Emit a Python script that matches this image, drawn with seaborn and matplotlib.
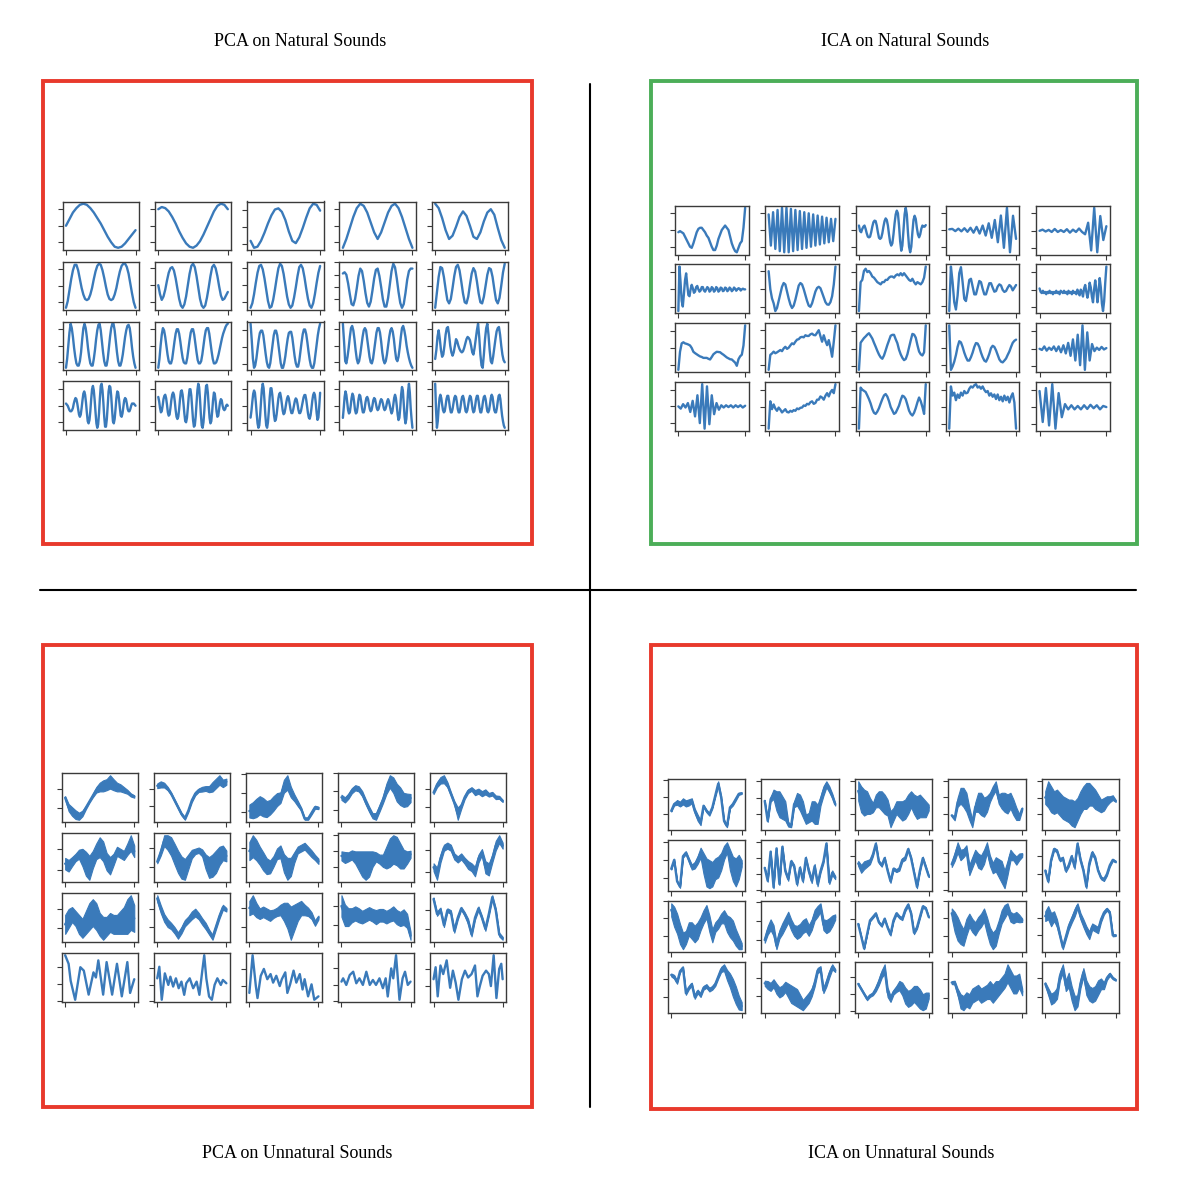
import numpy as np
import matplotlib
matplotlib.use("Agg")
import matplotlib.pyplot as plt
from matplotlib.ticker import MaxNLocator
from matplotlib.patches import Rectangle
from matplotlib.lines import Line2D
import seaborn as sns

sns.set_style("ticks")
plt.rcParams['font.family'] = ['Liberation Serif', 'DejaVu Serif']

# ---------------- titles ----------------
TITLES = ["PCA on Natural Sounds", "ICA on Natural Sounds",
          "PCA on Unnatural Sounds", "ICA on Unnatural Sounds"]

# ---------------- PCA on natural sounds (4 x 5 components) ----------------
TL_WAVES = [
    [0, 3, 6, 8, 9.5, 10, 9.5, 8, 6, 3.5, 1, -2, -5, -7.5, -9.5, -10, -9.5, -8, -6, -4, -2],
    [7.5, 8.5, 8, 6.5, 4, 1, -2.5, -5.5, -8, -9.5, -10, -9, -7, -4, -0.5, 3, 6.5, 9, 10, 9.5, 7.5],
    [-6, -9, -8.5, -6, -2.5, 1.5, 5, 7.5, 8, 6.5, 3, -2, -6, -7, -4.5, -0.5, 4, 8, 10, 9.5, 7],
    [-10, -6, -1, 4, 8, 10, 9, 6, 1.5, -3, -6, -3, 1.5, 6, 9, 10, 8, 4, -1, -6, -10],
    [10, 8, 3.5, -2, -6, -4.5, -0.5, 4, 6.5, 4.5, 0, -5, -6, -3, 2, 6, 7.5, 5, -1, -6.5, -10],
    [-10, -7, -2, 3, 7, 9.5, 9.5, 7, 3, -1, -4, -6, -6.5, -6, -4, -1, 3, 6.5, 9, 10, 9.5, 7, 3.5, -0.5,
     -4, -6, -6.5, -6, -4, -1, 3, 6.5, 9, 10, 10, 8.5, 5.5, 1, -3.5, -7.5, -10],
    [0, -4, -6.5, -5, -2, 2, 5.5, 7.5, 8, 6.5, 3, -1.5, -6, -9, -10, -8.5, -5, 0, 5, 8.5, 9.5, 8, 4, -1,
     -6, -9, -10, -9, -5.5, -1, 4, 8, 9, 7.5, 4, -0.5, -4.5, -6.5, -6, -4.5, -3],
    [-10, -8, -4, 1, 5.5, 8.5, 9, 7, 3, -2, -7, -10, -9.5, -6.5, -2, 3, 7.5, 9.5, 8.5, 5, 0, -5, -8.5, -10,
     -9, -5.5, -1, 4, 8, 9, 7.5, 3.5, -1.5, -6, -9, -10, -8, -4, 1, 5.5, 8.5],
    [5.5, 6, 5, 1.5, -3, -7, -7.5, -5, -0.5, 4.5, 7.5, 6.5, 2.5, -2.5, -6.5, -8, -6, -1.5, 3.5, 7, 7.5,
     4.5, 0, -5, -8, -8, -4.5, 1, 6.5, 9.5, 8, 3.5, -2, -6.5, -8.5, -7, -2.5, 3, 6.5, 7.5, 7.5],
    [-10, -3, 4, 8.5, 8, 4, -1.5, -6.5, -8, -6, -1, 4.5, 8.5, 9.5, 7, 2, -3.5, -7.5, -8, -5, 0.5, 5.5, 8,
     6.5, 2, -3.5, -7.5, -8, -5, 0, 5, 8, 7.5, 4, -1.5, -6.5, -8, -5.5, 0, 6, 10],
    [-10, -6, 0, 6, 10, 8, 4, -1, -5, -8, -9, -9, -7, -3, 3, 8, 10, 8, 4, -1, -5, -8, -9, -9, -6, -2, 3,
     7, 9.5, 10, 7, 2, -3, -7, -9, -9, -6, -1, 4, 8, 10, 10, 7, 2, -3, -7, -9, -9, -7, -4, 0, 4, 7, 9,
     9.5, 8, 4, -1, -5, -8, -10],
    [-10, -6, 0, 5, 8, 7, 4, 0, -4, -7, -8, -8, -6, -2, 2, 5.5, 7.5, 7.5, 5.5, 2, -2, -5.5, -7.5, -8, -8,
     -5.5, -1.5, 2.5, 6, 7.5, 7.5, 5, 1, -3, -6.5, -8, -8, -7, -4, 0, 4, 7, 8, 8, 5.5, 1.5, -2.5, -6, -8,
     -8, -7.5, -6, -4, -1.5, 1, 3.5, 5.5, 7, 8.5, 9.5, 10],
    [10, 3, -5, -9, -8, -5, -1, 3, 6, 7, 7, 5, 1, -3, -6.5, -8.5, -9, -7, -3, 1, 5, 7, 7, 5, 1, -3, -7,
     -9, -9, -7, -4, 0, 3.5, 6, 6.5, 6.5, 4, 0, -4, -7, -8.5, -8.5, -6, -2, 2, 5.5, 7.5, 7.5, 5.5, 2, -2,
     -5.5, -8, -9, -9, -7, -3, 1, 5, 8, 10],
    [10, 2, -7, -8, -5, -1, 4, 8, 9, 7, 3, -2, -6, -8, -7, -4, 0, 4, 7, 8, 7, 3, -1, -5, -7.5, -8, -6, -2,
     2, 6, 8, 8, 6, 2, -3, -6.5, -8, -7, -4, 0, 4, 7, 8, 6.5, 3, -2, -6, -7, -5, -1, 4, 8, 9, 7, 4, 0, -3,
     -5.5, -7.5, -9, -10],
    [-6, -2, 4, 7, 3, -2, -5, -4, 0, 5, 8, 8.5, 5, 0, -3, -4.5, -3, 0, 3, 2, 0, -1.5, -2.5, -3, -2.5, -1,
     1, 3, 4, 3.5, 2.5, 0, -3, -4, -1, 3, 7, 10, 4, -4, -9, -10, -4, 3, 8, 10, 5, -2, -7, -8, -5, -1, 3,
     6.5, 8, 8.5, 5, 0, -4, -6.5, -7.5],
    [1, 0.5, 0, -1, -2, -2.5, -2.5, -2, -1, 1, 2.5, 3.5, 3, 1, -1.5, -4, -5, -4, -1, 2.5, 5.5, 6.5, 5,
     1.5, -3, -7, -8, -6.5, -2.5, 3, 7.5, 9, 7, 2.5, -3, -8, -10, -8.5, -3.5, 3.5, 9, 10, 7, 1.5, -5,
     -9.5, -9.5, -6, 0, 6.5, 9, 8.5, 4.5, -1.5, -7, -8, -6, -1.5, 3.5, 6.5, 6, 3, -1, -4.5, -5, -3.5,
     -0.5, 2.5, 3.5, 3, 1, -1.5, -2.5, -2.5, -1.5, 0, 1, 1, 1, 0.5, 0],
    [4, 2, -1, -3, -2.5, 0, 3, 4.5, 5, 3.5, 0.5, -3, -4.5, -4, -1, 2.5, 5, 6, 5, 2, -2, -5, -6, -5, -1.5,
     3, 6.5, 7, 5, 1, -3.5, -7, -7.5, -5.5, -1, 4, 7.5, 7.5, 4.5, -1, -6.5, -9.5, -9, -5, 1, 7, 10, 8.5,
     3, -4, -9, -10, -7.5, -2, 4.5, 9, 9.5, 6, 0, -5.5, -8, -7, -2.5, 2.5, 6, 5.5, 2, -2.5, -5, -4.5,
     -1.5, 1.5, 3, 2.5, 0, -1.5, -2, -1.5, 0, 0.5, 0],
    [-5, -2, 2, 5.5, 7, 6, 2, -3, -7.5, -9.5, -8.5, -4, 2, 7.5, 10, 8, 2.5, -4, -8.5, -9.5, -7, -2, 4, 8,
     8, 5, 0.5, -4, -6.5, -6, -3.5, 0, 3.5, 5.5, 6, 4, 1, -2, -3.5, -3, -1, 1.5, 3.5, 4.5, 3.5, 1, -1.5,
     -3, -3, -1.5, 0.5, 2.5, 3.5, 3, 1, -1.5, -3, -3, -2, 0, 2, 4, 5, 5, 3, 0, -3, -5, -5.5, -4, -1, 2.5,
     5, 6, 5, 1.5, -3, -6, -5, 0, 6],
    [-5.5, -1, 4, 6.5, 5, 1.5, -2, -3.5, -3, 0, 3.5, 5.5, 4.5, 1.5, -2, -3.5, -3, -0.5, 3, 5, 4.5, 2, -1,
     -3, -3, -1.5, 1.5, 3.5, 4, 3, 0.5, -1.5, -2.5, -2, 0, 2.5, 3.5, 3, 1, -1, -2, -1.5, 0, 2, 3, 2.5, 1,
     -1, -2, -1.5, 0, 2, 3, 2, 0, -2, -3.5, -2.5, 0.5, 3.5, 5, 3.5, 0, -4, -6.5, -5.5, -1, 5, 8.5, 7, 1,
     -5, -8, -6, 0, 6.5, 10, 6, -1, -6, -10],
    [10, -2, -10, -7, -1, 3.5, 5, 3.5, 0.5, -2, -3, -2.5, 0, 3, 4.5, 4.5, 2, -1, -3, -3, -1.5, 1, 3.5,
     4.5, 4, 1.5, -1.5, -3, -3, -1, 2, 4, 4.5, 3, 0, -2.5, -3, -2, 0.5, 3, 4.5, 4, 1.5, -1.5, -3, -2.5, 0,
     3, 4.5, 4.5, 2, -1, -3, -3, -1, 2, 4, 4.5, 3, 0, -2.5, -3, -2, 0.5, 3.5, 5, 4, 1, -2, -3, -3, -1, 2,
     4.5, 5, 3, -1, -4.5, -7, -9, -10],
]

# ---------------- ICA on natural sounds ----------------
TR_WAVES = [
    [-1, -0.5, -1, -1.5, -3, -4.5, -6, -7.5, -8, -6, -3.5, -1, 0.5, 1, 1, 0, -1, -2.5, -3.5, -5.5, -7.5,
     -9, -9, -7, -4, -2, 0, 1, 2, 1, 0, -3, -6, -8, -9.5, -10, -8, -6, -5, 1, 10],
    [7, -7, 8, -8.5, 9, -9.5, 10, -10, 10, -10, 9.5, -9.5, 9, -9, 8.5, -8.5, 8, -8, 7.5, -7.5, 7, -7,
     6.5, -6.5, 6, -6, 5.5, -5.5, 5, -5, 5],
    [2, -0.5, -1, 0.5, 1.5, 2, 0.5, -1.5, -3, -3.3, -3, -1, 1.5, 3.5, 4.2, 4, 2, -1, -3.5, -4, -3.5, -1.5,
     1.5, 4, 5.2, 4.5, 2, -2, -5.5, -7, -6, -2, 3, 7, 8.7, 7.5, 2, -5, -9.3, -7, 0, 7, 10, 7, -1, -7.5,
     -10, -7.5, -1, 4.5, 6.4, 5, 1, -2, -3.3, -2, 0.5, 2, 1.5, 1.5, 2.2],
    [0.3, 0.5, -0.5, 0.6, -0.6, 0.8, -0.8, 1, -1.2, 1.4, -1.6, 2, -2.5, 3, -3.5, 4.5, -5.5, 6.5, -8, 10,
     -10, 6.4, -4],
    [0, 0.5, -0.3, 0.4, -0.5, 0.8, -0.5, 0.3, -0.5, 0.7, -0.8, 0.5, -0.5, 1, -0.5, -1.5, 3.5, -8.5, 10,
     -9.3, 6.4, -4, 2],
    [-9.5, 10, 3, -5, -7.5, -2, 4, 7, 2, -2.5, -3, 0, 2, 0.5, -1.5, -1, 1, 1.5, 0, -1, -0.5, 1, 1, -0.5,
     -1, 0, 1, 0.5, -1, -0.5, 1, 0.5, -1, -0.5, 1, 0.5, -1, -0.5, 0.8, 0.5, -0.8, -0.5, 0.8, 0.5, -0.8,
     -0.3, 0.8, 0.3, -0.8, -0.3, 0.8, 0.3, -0.6, 0, 0.5, 0.3, -0.5, 0, 0.3, 0, 0],
    [7.6, 0, -3.9, -6, -9.3, -8, -5, -2, 1, 2.6, 2, -1, -4, -6.5, -8, -7, -4.5, -1.5, 1.5, 2.6, 2, 0,
     -2.5, -5, -7, -7.5, -6, -3.5, -1, 0.5, 1, 0.4, -1.5, -3.5, -5.5, -6.5, -6.6, -5.5, -3, 2, 9.6],
    [-10, 3, 4, 8, 9, 7.5, 8, 7, 5.5, 5, 4, 3, 2.5, 2, 3, 3, 4, 4, 5, 5.5, 5.5, 5, 6, 6.5, 6, 7, 6, 7, 6,
     5, 4, 3.5, 4.5, 3, 2, 3, 2.5, 2, 3, 5, 10],
    [-10, 10, 3, -6, -9.3, -3, 7, 9.7, 3, -4.5, -5.5, -1, 4, 4.5, 1, -2.5, -2.5, 0.5, 3.5, 3, 0, -2.5,
     -2.5, 0, 2.5, 2.5, 0.5, -1.3, -1, 1, 2, 1.5, -0.5, -1.4, -1, 0.5, 1.7, 1, -0.7, 0.5, 1.7],
    [0.5, -1, -1.5, -0.5, -1.5, -1, -2, -1, -1.5, -0.5, -1.5, -1, -2, -1, -1.5, -0.5, -1.5, -1, -2, -0.5,
     -1, -1.5, -0.5, -1.5, -1, -2, -0.5, -1.5, -1, -2, -0.5, -1.5, -1, -2, 0, -1.5, -2.5, 0, -1, -3, 0.5,
     2, -1, -3.5, -1, 3, 1, -3, -5.5, 0, 4, 0, -5.5, -1, 5, 1, -6, -9.3, -5, 3, 10],
    [-9.7, -1.7, 2, 2.5, 2, 1.8, 1.5, 1.1, 0, -1.7, -2.3, -2.8, -3.3, -3.75, -4, -4.4, -4.4, -4.4, -4.8,
     -5.1, -4, -2.8, -2.2, -1.7, -1.8, -1.9, -2.5, -3, -3.6, -4.2, -4.6, -5, -5.1, -5.8, -6.5, -7.9, -5,
     -3.7, -3, 1.1, 10],
    [-9.6, -3.1, -2.5, -1.7, -2.4, -2, -1.5, -1, -1.5, -0.3, 0.4, -0.5, 0, 1, 1.9, 1.5, 2.6, 3.5, 3.7,
     4.5, 4.7, 4.5, 5.4, 5.1, 5.1, 5.8, 6.1, 5.5, 5.4, 6.5, 7.6, 5, 2.6, 5.4, 3, 1.1, 3.3, 0, -3.9, 2.6,
     9.7],
    [-9.2, 2.5, 3.5, 4.5, 5.2, 6, 6.6, 5.5, 4.3, 2.5, 0.8, -1, -2.6, -3.8, -4.4, -3, -0.8, 1.5, 3.5, 5.5,
     5.9, 5.9, 4, 2.3, -0.5, -2.5, -4, -5, -4.5, -2.5, 0.5, 3.5, 6.3, 6, 4.7, 1.5, -1.3, -2.5, -3, -1.6,
     10],
    [10, -9.6, -8.1, -6, -3.1, 0.5, 3, 2.5, 0.5, -2, -4, -5.5, -5.5, -4, -2, 0.5, 2.2, 2, 0.5, -2, -4,
     -5.5, -6, -4.5, -2.5, 0, 1, 0.5, -1, -3, -5, -6, -6.3, -5.5, -4.6, -3, -1.5, 0.5, 2.3, 3.2, 3.7],
    [0, -0.5, 1, -0.8, 0.5, -0.5, 1, -1, 1, -1.5, 1.5, -2, 2.5, -3, 4, -5, 6, -7, 10, -9, 7, -5, 2, -1,
     0.5, -0.5, 0.8, -0.3, 0.3],
    [0, -1, 1, -0.5, 1.5, -2.5, 2.5, -4.5, 5, -7.5, 10, -10, 9, -8, 5, -3.5, 1.5, -1.5, 0.5, -0.5, 0.5,
     -0.3, 0.5, -0.5, 0.5, -0.3, 0.5, -0.5, 0.3],
    [-9.2, 2.6, -0.8, 1.25, -0.5, -1.5, -0.1, -1, -2.2, -1.5, -0.8, -2, -2.2, -1.5, -1.9, -1.2, -1.5,
     -0.5, -0.8, -0.2, -0.1, 0.8, 0.6, 1.5, 1.25, 2.2, 2.6, 1.5, 1.9, 3.3, 3.3, 4.7, 4.2, 3.3, 5, 6.1,
     4.7, 6.5, 7.5, 6.1, 10],
    [-9.4, 8.4, 7.5, 7, 6.5, 5, 3.4, 1.5, -0.9, -2.5, -3, -2, -0.5, 1.5, 3.4, 5, 5.6, 4.5, 2.5, 0, -1.5,
     -3, -2.5, -1, 0.6, 3, 4.9, 4.5, 3.4, 1, -1.6, -3, -3.7, -2.5, -0.5, 2, 4.1, 2.5, 0, -3, 9.9],
    [-9.4, 9, 5, 6.3, 3, 5.5, 4, 6.3, 5, 7, 6, 6.3, 8, 9, 8.5, 9.5, 10, 8.5, 9, 8, 9, 7.5, 6.5, 7, 5, 6,
     4.5, 5.5, 3.5, 5.5, 3, 4.5, 2.5, 5, 3, 4.5, 2, 4.5, 6, 2, -9.4],
    [7, -6.5, 8.3, -8, 10, -9.4, 6.1, -4.4, 1.3, -1, 0.8, -1, 0.5, -1, 0.8, -0.8, 1, -0.5, 0.8, -1, 0.5,
     0],
]

# ---------------- PCA on unnatural sounds: noisy traces (centre + half-thickness) ----------------
BL_CENTER = [
    [77, 52, 42, 34, 30, 37, 52, 67, 82, 97, 104, 107, 110, 117, 110, 104, 102, 97, 92, 84, 80],
    [110, 114, 112, 102, 87, 67, 47, 27, 14, 37, 67, 87, 97, 100, 102, 100, 107, 117, 127, 117, 122],
    [52, 54, 60, 67, 62, 57, 62, 72, 82, 87, 117, 127, 102, 87, 72, 57, 32, 32, 47, 62, 60],
    [84, 77, 87, 102, 110, 107, 94, 72, 52, 34, 32, 54, 77, 107, 127, 117, 97, 87, 77, 77, 82],
    [90, 112, 124, 127, 112, 87, 62, 32, 52, 77, 94, 100, 90, 94, 87, 92, 84, 87, 77, 77, 67],
    [65, 60, 70, 80, 88, 80, 65, 55, 75, 95, 105, 95, 70, 60, 75, 95, 90, 85, 100, 115, 95],
    [65, 90, 120, 115, 105, 85, 65, 50, 45, 65, 85, 92, 95, 88, 65, 50, 55, 65, 80, 88, 80],
    [92, 105, 95, 80, 65, 52, 50, 65, 85, 90, 60, 45, 50, 75, 95, 100, 105, 95, 85, 75, 65],
    [85, 80, 82, 88, 80, 70, 60, 55, 60, 75, 82, 75, 70, 80, 95, 105, 100, 85, 75, 80, 90],
    [60, 45, 80, 105, 110, 105, 85, 78, 85, 75, 65, 60, 50, 80, 95, 60, 55, 80, 110, 125, 110],
    [60, 75, 85, 75, 60, 50, 65, 80, 90, 80, 60, 50, 55, 65, 60, 60, 65, 70, 80, 90, 75],
    [130, 100, 75, 60, 52, 40, 25, 40, 60, 70, 82, 90, 80, 65, 52, 35, 20, 50, 80, 105, 98],
    [100, 110, 95, 85, 90, 85, 80, 85, 90, 95, 90, 80, 60, 75, 90, 100, 95, 90, 80, 60, 75],
    [100, 75, 70, 75, 80, 75, 70, 75, 80, 75, 70, 75, 75, 70, 75, 80, 70, 65, 70, 60, 20],
    [130, 90, 102, 60, 100, 95, 45, 80, 105, 90, 70, 35, 80, 105, 80, 50, 90, 135, 100, 35, 25],
]
BL_WIDTH = [
    [5, 10, 12, 12, 10, 8, 5, 4, 5, 8, 12, 15, 15, 18, 15, 12, 10, 8, 6, 5, 4],
    [8, 10, 8, 6, 5, 5, 5, 5, 5, 5, 6, 6, 6, 8, 8, 10, 15, 15, 15, 12, 10],
    [18, 22, 25, 25, 25, 22, 20, 20, 18, 15, 18, 20, 15, 10, 8, 5, 4, 4, 5, 5, 4],
    [8, 8, 8, 8, 8, 8, 8, 8, 8, 8, 10, 10, 10, 15, 18, 22, 25, 25, 20, 18, 12],
    [5, 8, 10, 12, 8, 6, 6, 18, 8, 6, 6, 6, 8, 8, 8, 8, 6, 6, 6, 5, 4],
    [15, 15, 12, 10, 12, 22, 30, 30, 22, 20, 25, 25, 22, 22, 15, 12, 12, 12, 15, 20, 15],
    [5, 10, 15, 20, 25, 28, 30, 30, 28, 20, 12, 8, 8, 10, 20, 28, 30, 30, 25, 20, 15],
    [25, 30, 28, 25, 25, 22, 18, 15, 15, 18, 25, 30, 25, 15, 10, 10, 10, 10, 10, 8, 8],
    [15, 18, 15, 15, 20, 30, 40, 45, 40, 25, 15, 15, 20, 35, 45, 45, 45, 40, 30, 20, 12],
    [10, 15, 10, 8, 8, 8, 8, 8, 8, 8, 10, 10, 12, 10, 8, 15, 15, 10, 12, 10, 8],
    [25, 25, 20, 20, 25, 25, 30, 35, 35, 35, 30, 30, 25, 25, 25, 25, 30, 35, 45, 45, 35],
    [10, 12, 12, 12, 10, 10, 10, 10, 10, 10, 12, 12, 10, 10, 10, 8, 8, 8, 8, 8, 6],
    [20, 25, 20, 15, 15, 15, 15, 12, 12, 15, 25, 35, 45, 35, 25, 20, 15, 12, 10, 8, 6],
    [30, 30, 25, 20, 20, 20, 18, 18, 18, 18, 20, 18, 18, 18, 18, 20, 20, 20, 22, 20, 12],
    [5, 6, 6, 6, 6, 6, 6, 6, 5, 6, 8, 6, 6, 6, 6, 6, 6, 6, 6, 6, 5],
]
BL_R4_X = [
    [0, 0.05, 0.08, 0.145, 0.22, 0.27, 0.3, 0.34, 0.41, 0.445, 0.48, 0.55, 0.6, 0.68, 0.75, 0.82, 0.9, 0.94, 1.0],
    [0, 0.03, 0.065, 0.11, 0.16, 0.19, 0.23, 0.27, 0.31, 0.35, 0.39, 0.42, 0.47, 0.52, 0.57, 0.61, 0.65,
     0.68, 0.71, 0.75, 0.79, 0.83, 0.87, 0.92, 0.95, 1.0],
    [0, 0.047, 0.094, 0.118, 0.165, 0.21, 0.26, 0.307, 0.344, 0.39, 0.44, 0.47, 0.52, 0.55, 0.59, 0.64,
     0.68, 0.73, 0.77, 0.8, 0.85, 0.9, 0.94, 1.0],
    [0, 0.024, 0.07, 0.12, 0.17, 0.215, 0.26, 0.31, 0.36, 0.41, 0.455, 0.5, 0.55, 0.6, 0.64, 0.67, 0.72,
     0.75, 0.79, 0.84, 0.885, 0.92, 0.96, 1.0],
    [0, 0.03, 0.06, 0.1, 0.14, 0.19, 0.24, 0.28, 0.32, 0.36, 0.41, 0.455, 0.5, 0.55, 0.6, 0.635, 0.67,
     0.71, 0.76, 0.8, 0.83, 0.87, 0.91, 0.95, 0.98, 1.0],
]
BL_R4_Y = [
    [135, 110, 60, 5, 100, 90, 60, 20, 85, 70, 120, 20, 115, 20, 110, 15, 115, 25, 65],
    [70, 105, 5, 85, 50, 75, 45, 70, 40, 60, 20, 55, 70, 40, 60, 20, 90, 140, 70, 15, 5, 50, 70, 50, 65, 55],
    [30, 140, 50, 15, 80, 100, 70, 85, 60, 80, 50, 70, 90, 30, 55, 95, 60, 85, 40, 70, 20, 55, 10, 20],
    [60, 70, 50, 80, 90, 55, 70, 50, 90, 50, 65, 50, 70, 40, 70, 15, 100, 70, 140, 5, 70, 90, 50, 60],
    [70, 105, 20, 110, 85, 125, 45, 95, 60, 10, 70, 95, 75, 85, 110, 20, 50, 80, 95, 85, 50, 140, 15,
     100, 115, 70],
]

# ---------------- ICA on unnatural sounds (centre + half-thickness) ----------------
BR_CENTER = [
    [60, 80, 85, 80, 88, 82, 85, 90, 60, 40, 25, 75, 60, 50, 70, 105, 140, 100, 30, 15, 70, 80, 95, 110, 112],
    [90, 30, 95, 110, 90, 80, 70, 60, 20, 15, 80, 95, 85, 65, 35, 40, 60, 55, 50, 90, 120, 140, 125, 105, 80],
    [120, 95, 85, 85, 75, 70, 90, 95, 90, 80, 70, 35, 50, 70, 65, 60, 65, 80, 95, 80, 70, 75, 70, 65, 70],
    [45, 35, 85, 105, 100, 85, 50, 20, 70, 85, 80, 70, 80, 100, 120, 135, 95, 90, 85, 80, 90, 70, 50, 40, 65],
    [100, 110, 95, 85, 90, 80, 70, 65, 60, 55, 50, 65, 85, 100, 105, 110, 105, 95, 85, 75, 80, 90, 95, 100, 90],
    [75, 100, 40, 25, 110, 120, 100, 80, 85, 100, 120, 90, 65, 60, 60, 75, 80, 95, 120, 135, 100, 75, 65, 80, 90],
    [70, 30, 120, 10, 130, 20, 135, 60, 35, 90, 75, 20, 70, 30, 100, 60, 30, 75, 20, 60, 90, 145, 25, 55, 40],
    [80, 65, 75, 80, 85, 105, 135, 85, 75, 95, 60, 30, 65, 60, 65, 90, 95, 120, 95, 55, 15, 60, 95, 70, 45],
    [70, 90, 115, 95, 100, 110, 55, 75, 95, 80, 75, 90, 115, 80, 60, 70, 60, 50, 30, 60, 95, 90, 80, 90, 95],
    [60, 30, 90, 120, 115, 90, 95, 60, 75, 100, 70, 135, 90, 60, 15, 80, 110, 95, 60, 40, 35, 50, 75, 90, 85],
    [125, 105, 85, 55, 35, 45, 70, 65, 55, 65, 85, 105, 120, 85, 50, 75, 85, 100, 105, 85, 75, 65, 45, 30, 20],
    [50, 75, 90, 75, 35, 65, 80, 95, 110, 90, 75, 70, 75, 85, 90, 75, 90, 115, 125, 135, 90, 85, 90, 100, 110],
    [85, 50, 15, 55, 95, 105, 115, 90, 80, 100, 75, 55, 95, 115, 105, 100, 125, 140, 115, 60, 75, 105, 135, 130, 105],
    [115, 90, 70, 55, 45, 75, 95, 80, 70, 85, 95, 110, 80, 50, 35, 45, 75, 105, 120, 130, 105, 100, 105, 100, 95],
    [105, 115, 95, 105, 85, 50, 15, 45, 75, 95, 115, 135, 105, 85, 65, 50, 75, 70, 65, 95, 115, 125, 115, 50, 50],
    [110, 105, 90, 120, 130, 60, 75, 85, 50, 65, 55, 75, 80, 70, 75, 85, 105, 125, 130, 110, 95, 75, 55, 35, 25],
    [85, 80, 75, 85, 70, 60, 65, 75, 65, 55, 50, 45, 35, 25, 35, 45, 60, 85, 120, 125, 65, 85, 110, 130, 120],
    [80, 65, 50, 35, 45, 50, 65, 85, 110, 125, 55, 35, 55, 65, 75, 65, 45, 35, 40, 50, 45, 35, 25, 30, 45],
    [90, 90, 65, 40, 35, 45, 40, 55, 60, 65, 55, 60, 65, 70, 60, 70, 75, 85, 95, 115, 100, 85, 85, 95, 65],
    [85, 65, 45, 50, 60, 105, 125, 80, 95, 60, 35, 40, 85, 115, 75, 60, 55, 60, 75, 85, 80, 100, 110, 100, 95],
]
BR_WIDTH = [
    [3, 5, 8, 8, 10, 10, 10, 8, 8, 10, 8, 4, 5, 5, 4, 5, 8, 6, 6, 4, 4, 5, 5, 4, 3],
    [4, 4, 8, 15, 30, 40, 35, 30, 8, 5, 10, 20, 25, 25, 15, 15, 30, 35, 30, 15, 15, 10, 10, 8, 5],
    [30, 40, 40, 35, 25, 15, 20, 25, 30, 30, 25, 25, 20, 20, 25, 30, 30, 30, 25, 30, 35, 35, 30, 25, 10],
    [4, 6, 15, 25, 30, 30, 20, 12, 15, 30, 35, 30, 25, 15, 15, 15, 15, 25, 30, 30, 25, 25, 20, 10, 5],
    [20, 40, 40, 35, 35, 35, 35, 35, 35, 40, 40, 35, 35, 35, 40, 35, 30, 30, 25, 20, 20, 15, 10, 8, 4],
    [3, 4, 4, 4, 5, 5, 6, 8, 10, 12, 15, 30, 40, 40, 35, 30, 30, 25, 20, 15, 30, 35, 40, 35, 10],
    [3, 4, 4, 4, 4, 4, 5, 6, 6, 6, 6, 6, 6, 6, 6, 8, 8, 8, 8, 6, 6, 5, 6, 8, 6],
    [8, 12, 12, 10, 8, 6, 5, 5, 5, 5, 5, 5, 5, 5, 6, 6, 6, 5, 5, 5, 5, 5, 5, 5, 4],
    [8, 12, 15, 15, 12, 12, 15, 15, 15, 20, 20, 20, 15, 15, 15, 20, 25, 30, 25, 20, 15, 10, 12, 10, 6],
    [4, 4, 4, 5, 5, 5, 5, 5, 5, 5, 6, 5, 6, 6, 5, 6, 6, 6, 5, 5, 5, 5, 5, 4, 3],
    [20, 30, 30, 30, 25, 20, 20, 25, 25, 25, 20, 20, 20, 25, 20, 15, 15, 15, 20, 25, 30, 30, 25, 20, 10],
    [8, 12, 15, 15, 10, 12, 15, 15, 15, 15, 15, 18, 18, 18, 18, 15, 15, 15, 15, 12, 15, 18, 18, 15, 8],
    [3, 3, 3, 3, 4, 4, 4, 4, 4, 4, 4, 4, 4, 5, 5, 5, 5, 5, 5, 5, 5, 5, 5, 4, 3],
    [15, 30, 35, 30, 25, 25, 20, 20, 20, 20, 20, 20, 25, 25, 25, 25, 20, 20, 20, 15, 15, 15, 15, 12, 6],
    [15, 20, 20, 15, 12, 8, 6, 8, 10, 10, 12, 8, 10, 12, 12, 12, 10, 10, 10, 8, 6, 5, 5, 4, 3],
    [5, 6, 5, 4, 4, 5, 5, 5, 6, 6, 6, 6, 6, 6, 6, 6, 6, 8, 10, 15, 20, 25, 25, 20, 12],
    [8, 12, 12, 12, 15, 15, 15, 15, 20, 25, 25, 25, 20, 15, 15, 15, 12, 10, 8, 8, 8, 10, 10, 8, 5],
    [4, 4, 4, 5, 5, 5, 8, 10, 12, 15, 15, 10, 8, 10, 15, 20, 25, 25, 25, 25, 30, 30, 25, 25, 10],
    [5, 6, 10, 20, 20, 20, 20, 20, 20, 20, 20, 20, 20, 25, 25, 25, 20, 20, 20, 25, 25, 25, 25, 20, 10],
    [5, 10, 15, 15, 15, 12, 12, 15, 20, 20, 20, 15, 12, 12, 20, 20, 20, 20, 20, 15, 10, 6, 5, 4, 3],
]

# ---------------- figure & styling ----------------
W, H = 1180, 1194
fig = plt.figure(figsize=(W / 100, H / 100), dpi=100)
fig.patch.set_facecolor('white')

BLUE = '#3a7aba'
RED = '#e8392c'
GREEN = '#4cae58'
SPINE = '#3a3a3a'
LINE_PT = 1.7


def px_axes(x, y, w, h):
    return fig.add_axes([x / W, 1 - (y + h) / H, w / W, h / H])


def style(ax):
    for s in ax.spines.values():
        s.set_visible(True)
        s.set_color(SPINE)
        s.set_linewidth(1.0)
    ax.tick_params(direction='out', length=3.5, width=0.8, color=SPINE,
                   labelleft=False, labelbottom=False, pad=1)
    ax.set_xticks([0, 1])
    ax.yaxis.set_major_locator(MaxNLocator(nbins=4, steps=[1, 2, 2.5, 5, 7.5, 10]))
    ax.set_xlabel('')
    ax.set_ylabel('')
    ax.set_facecolor('white')


def draw_line(ax, x, y):
    sns.lineplot(x=np.asarray(x, float), y=np.asarray(y, float), ax=ax, color=BLUE,
                 linewidth=LINE_PT, sort=False, estimator=None, legend=False)


def draw_band(ax, c, w):
    c = np.asarray(c, float)
    w = np.asarray(w, float)
    x = np.linspace(0, 1, len(c))
    half = np.clip(w - 1, 0, None)
    ax.fill_between(x, c - half, c + half, color=BLUE, linewidth=0.8, edgecolor=BLUE)
    draw_line(ax, x, c)


# grid geometry for each quadrant: left, top, width, height, x pitch, y pitch (pixels)
GRID_TL = (62.5, 201.5, 76.5, 48.5, 92.3, 60.0)
GRID_TR = (675.0, 205.5, 73.5, 49.0, 90.3, 58.8)
GRID_BL = (61.7, 773.0, 76.0, 49.0, 92.1, 60.0)
GRID_BR = (667.7, 779.0, 77.5, 50.5, 93.5, 61.0)


def grid_axes(grid, r, c):
    x0, y0, w, h, dx, dy = grid
    return px_axes(x0 + c * dx, y0 + r * dy, w, h)


for r in range(4):
    for c in range(5):
        k = r * 5 + c
        # PCA natural
        ax = grid_axes(GRID_TL, r, c)
        y = TL_WAVES[k]
        draw_line(ax, np.linspace(0, 1, len(y)), y)
        style(ax)
        # ICA natural
        ax = grid_axes(GRID_TR, r, c)
        y = TR_WAVES[k]
        draw_line(ax, np.linspace(0, 1, len(y)), y)
        style(ax)
        # PCA unnatural
        ax = grid_axes(GRID_BL, r, c)
        if r < 3:
            draw_band(ax, BL_CENTER[k], BL_WIDTH[k])
        else:
            draw_line(ax, BL_R4_X[c], BL_R4_Y[c])
        style(ax)
        # ICA unnatural
        ax = grid_axes(GRID_BR, r, c)
        draw_band(ax, BR_CENTER[k], BR_WIDTH[k])
        style(ax)

# quadrant frames
FRAMES = [((43, 81, 531.5, 543.5), RED), ((651, 81, 1137, 543.5), GREEN),
          ((43, 645, 531.5, 1107), RED), ((651, 645, 1137, 1108.5), RED)]
for (x1, y1, x2, y2), col in FRAMES:
    fig.add_artist(Rectangle((x1 / W, 1 - y2 / H), (x2 - x1) / W, (y2 - y1) / H,
                             transform=fig.transFigure, fill=False, edgecolor=col,
                             linewidth=2.8, joinstyle='miter'))

# separating cross
fig.add_artist(Line2D([40 / W, 1136 / W], [1 - 590 / H, 1 - 590 / H],
                      transform=fig.transFigure, color='black', linewidth=1.5))
fig.add_artist(Line2D([590 / W, 590 / W], [1 - 84 / H, 1 - 1107 / H],
                      transform=fig.transFigure, color='black', linewidth=1.5))

# titles
TITLE_POS = [(300, 41), (905, 41), (297, 1153), (901, 1153)]
for t, (x, y) in zip(TITLES, TITLE_POS):
    fig.text(x / W, 1 - y / H, t, ha='center', va='center', fontsize=13, color='black')

fig.savefig('out.png', dpi=100, facecolor='white')
